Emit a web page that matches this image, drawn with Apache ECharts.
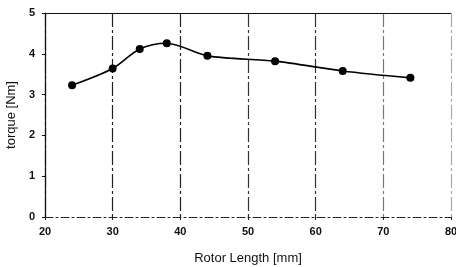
<!DOCTYPE html>
<html><head><meta charset="utf-8">
<script src="https://cdn.jsdelivr.net/npm/echarts@6/dist/echarts.min.js"></script>
<style>html,body{margin:0;padding:0;background:#fff}#c{width:456px;height:267px}</style>
</head><body><div id="c"></div>
<script>
const rotorLength = [24, 30, 34, 38, 44, 54, 64, 74];
const torque = [3.23, 3.64, 4.12, 4.26, 3.95, 3.82, 3.58, 3.41];
const xTicks = [20, 30, 40, 50, 60, 70, 80];
const yTicks = [0, 1, 2, 3, 4, 5];

const chart = echarts.init(document.getElementById('c'));
const font = 'Liberation Sans, Arial, sans-serif';
chart.setOption({
  animation: false,
  grid: {left: 45, right: 5, top: 13, bottom: 50, containLabel: false, outerBoundsMode: 'none'},
  xAxis: {
    type: 'value', min: xTicks[0], max: xTicks[xTicks.length - 1], interval: 10,
    name: 'Rotor Length [mm]', nameLocation: 'middle', nameGap: 35,
    nameTextStyle: {color: '#111', fontSize: 13, fontFamily: font},
    axisLine: {show: true, lineStyle: {color: '#222', width: 1, type: [8, 3, 2, 3]}},
    axisTick: {show: true, length: 3, lineStyle: {color: '#222'}},
    axisLabel: {color: '#111', fontSize: 11, fontFamily: font, margin: 9, fontWeight: 'bold'},
    splitLine: {show: true, lineStyle: {
      color: ['#222', '#222', '#222', '#333', '#333', '#777', '#aaa'],
      width: 1.2, type: [14, 3, 3, 3]}}
  },
  yAxis: {
    type: 'value', min: yTicks[0], max: yTicks[yTicks.length - 1], interval: 1,
    name: 'torque [Nm]', nameLocation: 'middle', nameGap: 26,
    nameTextStyle: {color: '#111', fontSize: 13, fontFamily: font},
    axisLine: {show: true, lineStyle: {color: '#111', width: 1.2}},
    axisTick: {show: true, length: 3, lineStyle: {color: '#111'}},
    axisLabel: {color: '#111', fontSize: 11, fontFamily: font, margin: 10, fontWeight: 'bold'},
    splitLine: {show: false}
  },
  series: [{
    type: 'line',
    data: rotorLength.map((x, i) => [x, torque[i]]),
    smooth: 0.3,
    symbol: 'circle', symbolSize: 8,
    lineStyle: {color: '#000', width: 1.6},
    itemStyle: {color: '#000'},
    markLine: {
      silent: true, symbol: 'none', label: {show: false},
      lineStyle: {color: '#111', width: 1.2, type: 'solid'},
      data: [{yAxis: 5}]
    }
  }]
});
</script></body></html>
